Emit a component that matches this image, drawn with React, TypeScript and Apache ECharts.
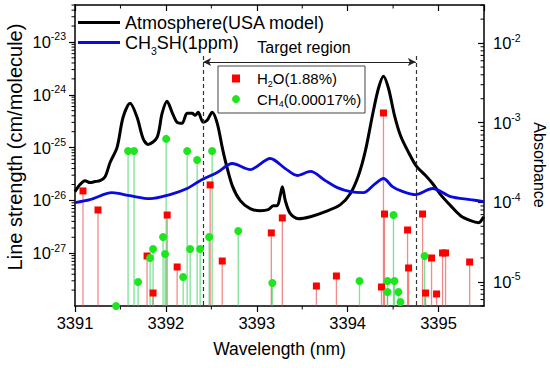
import React, { useEffect, useRef } from 'react';
import * as echarts from 'echarts';

const FONT = '"Liberation Sans", Arial, Helvetica, sans-serif';

const X_MIN = 3391;
const X_MAX = 3395.5;
const S_MIN = 1e-28;
const S_MAX = 5.01e-23;
const A_MIN = 4.98e-6;
const A_MAX = 3.01e-2;

// Target region annotation (wavelength nm, line strength level)
const TARGET_START = 3392.41;
const TARGET_END = 3394.75;
const ARROW_LEVEL = 4.18e-24;
const DASH_TOP = 5.4e-24;

// Atmosphere (USA model) absorbance: [wavelength, absorbance]
const atmosphere: number[][] = [
  [3391.0, 1.36e-4], [3391.055, 1.67e-4], [3391.11, 1.87e-4], [3391.165, 1.77e-4],
  [3391.22, 1.82e-4], [3391.275, 1.87e-4], [3391.331, 2.1e-4], [3391.386, 3.16e-4],
  [3391.463, 4.89e-4], [3391.529, 1.17e-3], [3391.606, 1.75e-3], [3391.683, 1.17e-3],
  [3391.749, 6.34e-4], [3391.804, 5.33e-4], [3391.903, 6.53e-4], [3391.958, 1.31e-3],
  [3392.013, 1.86e-3], [3392.068, 1.35e-3], [3392.123, 1.01e-3], [3392.178, 9.81e-4],
  [3392.233, 1.31e-3], [3392.289, 1.31e-3], [3392.322, 1.24e-3], [3392.355, 1.35e-3],
  [3392.41, 1.01e-3], [3392.454, 1.07e-3], [3392.509, 1.35e-3], [3392.565, 9.81e-4],
  [3392.62, 4.89e-4], [3392.653, 3.35e-4], [3392.73, 1.62e-4], [3392.818, 1.05e-4],
  [3392.927, 8.32e-5], [3393.037, 7.85e-5], [3393.126, 8.07e-5], [3393.181, 9.08e-5],
  [3393.225, 9.08e-5], [3393.258, 1.21e-4], [3393.281, 1.57e-4], [3393.314, 1.05e-4],
  [3393.369, 7.19e-5], [3393.457, 6.22e-5], [3393.59, 6.59e-5], [3393.755, 7.62e-5],
  [3393.92, 9.35e-5], [3394.03, 1.29e-4], [3394.119, 2.17e-4], [3394.196, 4.48e-4],
  [3394.273, 1.24e-3], [3394.339, 2.71e-3], [3394.394, 3.84e-3], [3394.449, 2.71e-3],
  [3394.515, 1.24e-3], [3394.581, 6.92e-4], [3394.67, 4.23e-4], [3394.758, 2.82e-4],
  [3394.857, 2.17e-4], [3394.934, 1.72e-4], [3395.022, 1.25e-4], [3395.132, 9.08e-5],
  [3395.242, 6.79e-5], [3395.353, 5.87e-5], [3395.441, 5.55e-5], [3395.496, 6.59e-5],
];

// CH3SH (1 ppm) absorbance: [wavelength, absorbance]
const ch3sh: number[][] = [
  [3391.0, 9.91e-5], [3391.165, 1.08e-4], [3391.407, 1.32e-4], [3391.606, 1.21e-4],
  [3391.826, 1.11e-4], [3392.046, 1.25e-4], [3392.233, 1.49e-4], [3392.377, 1.87e-4],
  [3392.564, 2.37e-4], [3392.73, 3.07e-4], [3392.927, 2.58e-4], [3393.148, 3.55e-4],
  [3393.314, 2.65e-4], [3393.446, 2.17e-4], [3393.59, 2.44e-4], [3393.755, 1.87e-4],
  [3393.887, 1.53e-4], [3394.03, 1.36e-4], [3394.172, 1.32e-4], [3394.304, 1.72e-4],
  [3394.394, 1.99e-4], [3394.493, 1.57e-4], [3394.581, 1.4e-4], [3394.747, 1.25e-4],
  [3394.934, 1.49e-4], [3395.132, 1.18e-4], [3395.353, 1.08e-4], [3395.5, 1.02e-4],
];

// H2O (1.88%) line strengths: [wavelength, cm/molecule]
const h2oLines: number[][] = [
  [3391.088, 1.51e-26], [3391.253, 6.58e-27], [3391.793, 8.85e-28], [3391.859, 1.76e-28],
  [3392.014, 5.28e-27], [3392.124, 5.48e-28], [3392.487, 1.96e-26], [3392.62, 7.11e-28],
  [3393.16, 2.42e-27], [3393.281, 4.65e-27], [3393.656, 2.39e-28], [3393.876, 3.7e-28],
  [3394.372, 2.29e-28], [3394.394, 4.52e-25], [3394.405, 5.52e-27], [3394.659, 2.75e-27],
  [3394.67, 5.25e-28], [3394.824, 5.52e-27], [3394.857, 1.76e-28], [3394.923, 8.11e-28],
  [3394.978, 1.69e-28], [3395.044, 1.01e-27], [3395.077, 1.01e-27], [3395.342, 6.81e-28],
];

// CH4 (0.00017%) line strengths: [wavelength, cm/molecule]
const ch4Lines: number[][] = [
  [3391.452, 1.0e-28], [3391.584, 8.63e-26], [3391.65, 8.63e-26], [3391.694, 2.85e-28],
  [3391.826, 8.11e-28], [3391.859, 1.2e-27], [3391.969, 2.03e-27], [3391.991, 9.66e-28],
  [3392.003, 1.46e-25], [3392.19, 3.54e-28], [3392.234, 8.63e-26], [3392.267, 1.2e-27],
  [3392.344, 5.82e-26], [3392.377, 1.2e-27], [3392.476, 2.03e-27], [3392.509, 8.63e-26],
  [3392.796, 2.63e-27], [3393.171, 2.73e-28], [3394.13, 2.97e-28], [3394.438, 2.97e-28],
  [3394.515, 2.97e-28], [3394.438, 1.84e-28], [3394.559, 1.84e-28], [3394.581, 1.19e-28],
  [3394.504, 5.28e-27], [3394.846, 8.85e-28],
];

const xMinorTicks = [3391.5, 3392.5, 3393.5, 3394.5];

const NAME_ATM = 'Atmosphere(USA model)';
const NAME_CH3SH = 'CH3SH(1ppm)';
const NAME_H2O = 'H2O(1.88%)';
const NAME_CH4 = 'CH4(0.00017%)';

function buildOption() {
  const leftMinor: number[][] = [];
  for (let n = -28; n <= -23; n++) {
    for (let k = 2; k <= 9; k++) {
      const v = k * Math.pow(10, n);
      if (v < S_MAX) leftMinor.push([X_MIN, v]);
    }
  }
  const rightMinor: number[][] = [];
  for (let n = -6; n <= -2; n++) {
    for (let k = 2; k <= 9; k++) {
      const v = k * Math.pow(10, n);
      if (v > A_MIN && v < A_MAX) rightMinor.push([X_MAX, v]);
    }
  }
  const xMinor: number[][] = [];
  xMinorTicks.forEach((w) => {
    xMinor.push([w, S_MIN]);
    xMinor.push([w, S_MAX]);
  });

  const hTick = (len: number) => (params: any, api: any) => {
    const p = api.coord([api.value(0), api.value(1)]);
    return {
      type: 'line',
      shape: { x1: p[0] - len, y1: p[1], x2: p[0], y2: p[1] },
      style: { stroke: '#000', lineWidth: 1 },
    };
  };
  const vTick = (len: number) => (params: any, api: any) => {
    const p = api.coord([api.value(0), api.value(1)]);
    return {
      type: 'line',
      shape: { x1: p[0], y1: p[1], x2: p[0], y2: p[1] + len },
      style: { stroke: '#000', lineWidth: 1 },
    };
  };
  const stem = (color: string) => (params: any, api: any) => {
    const top = api.coord([api.value(0), api.value(1)]);
    const bot = api.coord([api.value(0), S_MIN]);
    return {
      type: 'line',
      shape: { x1: top[0], y1: top[1], x2: bot[0], y2: bot[1] },
      style: { stroke: color, lineWidth: 1.3 },
    };
  };

  const supFmt = (v: number) => {
    const e = Math.round(Math.log10(v));
    return `{b|10}{s|${e}}`;
  };
  const supRich = {
    b: { fontSize: 16.5, lineHeight: 22, fontFamily: FONT, color: '#000' },
    s: { fontSize: 10.5, lineHeight: 10.5, verticalAlign: 'top', fontFamily: FONT, color: '#000' },
  };

  const axisLineStyle = { color: '#000', width: 1.5 };

  return {
    animation: false,
    backgroundColor: '#ffffff',
    textStyle: { fontFamily: FONT },
    grid: { left: 75, top: 5, width: 409, height: 301, outerBoundsMode: 'none' },
    xAxis: [
      {
        type: 'value',
        min: X_MIN,
        max: X_MAX,
        interval: 1,
        position: 'bottom',
        axisLine: { show: true, onZero: false, lineStyle: axisLineStyle },
        axisTick: { show: true, inside: false, length: 6, lineStyle: { color: '#000', width: 1.2 } },
        minorTick: { show: false },
        splitLine: { show: false },
        axisLabel: {
          show: true,
          margin: 8,
          fontSize: 16.5,
          fontFamily: FONT,
          color: '#000',
          showMaxLabel: false,
          formatter: (v: number) => String(Math.round(v)),
        },
        name: 'Wavelength (nm)',
        nameLocation: 'middle',
        nameGap: 34,
        nameTextStyle: { fontSize: 17.5, fontFamily: FONT, color: '#000' },
      },
      {
        type: 'value',
        min: X_MIN,
        max: X_MAX,
        interval: 1,
        position: 'top',
        axisLine: { show: true, onZero: false, lineStyle: axisLineStyle },
        axisTick: { show: true, inside: true, length: 6, lineStyle: { color: '#000', width: 1.2 } },
        axisLabel: { show: false },
        splitLine: { show: false },
      },
    ],
    yAxis: [
      {
        type: 'log',
        logBase: 10,
        min: S_MIN,
        max: S_MAX,
        position: 'left',
        axisLine: { show: true, onZero: false, lineStyle: axisLineStyle },
        axisTick: { show: true, inside: false, length: 6, lineStyle: { color: '#000', width: 1.2 } },
        splitLine: { show: false },
        axisLabel: {
          show: true,
          margin: 9,
          showMaxLabel: false,
          formatter: supFmt,
          rich: supRich,
        },
      },
      {
        type: 'log',
        logBase: 10,
        min: A_MIN,
        max: A_MAX,
        position: 'right',
        axisLine: { show: true, onZero: false, lineStyle: axisLineStyle },
        axisTick: { show: true, inside: true, length: 6, lineStyle: { color: '#000', width: 1.2 } },
        splitLine: { show: false },
        axisLabel: {
          show: true,
          margin: 9,
          showMinLabel: false,
          showMaxLabel: false,
          formatter: supFmt,
          rich: supRich,
        },
        name: 'Absorbance',
        nameLocation: 'middle',
        nameGap: 44,
        nameRotate: -90,
        nameTextStyle: {
          fontSize: 16,
          fontFamily: FONT,
          color: '#000',
          padding: [0, 0, 0, 19],
        },
      },
    ],
    legend: [
      {
        data: [
          { name: NAME_ATM, icon: 'rect' },
          { name: NAME_CH3SH, icon: 'rect' },
        ],
        orient: 'vertical',
        left: 78,
        top: 13.5,
        padding: 0,
        itemGap: 0,
        itemWidth: 42,
        itemHeight: 3,
        selectedMode: false,
        formatter: (name: string) =>
          name === NAME_CH3SH ? '{n|CH}{sb|3}{n|SH(1ppm)}' : `{n|${name}}`,
        textStyle: {
          color: '#000',
          fontFamily: FONT,
          fontSize: 18,
          rich: {
            n: { fontSize: 18, lineHeight: 22, fontFamily: FONT, color: '#000' },
            sb: { fontSize: 10.5, lineHeight: 10.5, verticalAlign: 'top', padding: [14, 0, 0, 0], fontFamily: FONT, color: '#000' },
          },
        },
      },
      {
        data: [
          { name: NAME_H2O, icon: 'rect' },
          { name: NAME_CH4, icon: 'circle' },
        ],
        orient: 'vertical',
        left: 232,
        top: 67.5,
        padding: 0,
        itemGap: 0,
        itemWidth: 8,
        itemHeight: 8,
        selectedMode: false,
        formatter: (name: string) =>
          name === NAME_H2O ? '{m0|H}{sb|2}{m|O(1.88%)}' : '{m0|CH}{sb|4}{m|(0.00017%)}',
        textStyle: {
          color: '#000',
          fontFamily: FONT,
          fontSize: 15,
          rich: {
            m0: { fontSize: 15, lineHeight: 22, padding: [0, 0, 0, 12], fontFamily: FONT, color: '#000' },
            m: { fontSize: 15, lineHeight: 22, fontFamily: FONT, color: '#000' },
            sb: { fontSize: 9, lineHeight: 9, verticalAlign: 'top', padding: [11.6, 0, 0, 0], fontFamily: FONT, color: '#000' },
          },
        },
      },
    ],
    graphic: [
      {
        type: 'rect',
        shape: { x: 218, y: 66, width: 147, height: 47 },
        style: { fill: 'rgba(255,255,255,0)', stroke: '#444', lineWidth: 1 },
        silent: true,
        z: 50,
      },
      {
        type: 'text',
        x: 15,
        y: 147,
        rotation: Math.PI / 2,
        style: {
          text: 'Line strength (cm/molecule)',
          fontSize: 20,
          fontFamily: FONT,
          fill: '#000',
          align: 'center',
          verticalAlign: 'middle',
          textAlign: 'center',
          textVerticalAlign: 'middle',
        },
        silent: true,
      },
    ],
    series: [
      {
        name: 'H2O stems',
        type: 'custom',
        xAxisIndex: 0,
        yAxisIndex: 0,
        data: h2oLines,
        renderItem: stem('rgba(232,60,60,0.6)'),
        silent: true,
        z: 2,
      },
      {
        name: 'CH4 stems',
        type: 'custom',
        xAxisIndex: 0,
        yAxisIndex: 0,
        data: ch4Lines,
        renderItem: stem('rgba(40,205,80,0.6)'),
        silent: true,
        z: 2,
      },
      {
        name: NAME_ATM,
        type: 'line',
        xAxisIndex: 0,
        yAxisIndex: 1,
        data: atmosphere,
        symbol: 'none',
        showSymbol: false,
        smooth: 0.3,
        lineStyle: { color: '#000', width: 3 },
        itemStyle: { color: '#000' },
        z: 3,
      },
      {
        name: NAME_CH3SH,
        type: 'line',
        xAxisIndex: 0,
        yAxisIndex: 1,
        data: ch3sh,
        symbol: 'none',
        showSymbol: false,
        smooth: 0.3,
        lineStyle: { color: '#0a0adc', width: 2.8 },
        itemStyle: { color: '#0a0adc' },
        z: 3,
      },
      {
        name: NAME_H2O,
        type: 'scatter',
        xAxisIndex: 0,
        yAxisIndex: 0,
        data: h2oLines,
        symbol: 'rect',
        symbolSize: 7,
        itemStyle: { color: '#ff0000', opacity: 1 },
        z: 5,
        markLine: {
          silent: true,
          symbol: ['none', 'none'],
          label: { show: false },
          lineStyle: { color: '#333', type: [4, 3], width: 1.2 },
          data: [
            [{ coord: [TARGET_START, DASH_TOP] }, { coord: [TARGET_START, S_MIN] }],
            [{ coord: [TARGET_END, DASH_TOP] }, { coord: [TARGET_END, S_MIN] }],
            [
              {
                coord: [TARGET_START, ARROW_LEVEL],
                symbol: 'arrow',
                symbolSize: [6, 8],
                lineStyle: { type: 'solid', color: '#222', width: 1 },
                label: {
                  show: true,
                  position: 'middle',
                  formatter: 'Target region',
                  fontSize: 16,
                  fontFamily: FONT,
                  color: '#000',
                  distance: 6,
                  padding: [0, 11, 0, 0],
                },
              },
              { coord: [TARGET_END, ARROW_LEVEL], symbol: 'arrow', symbolSize: [6, 8] },
            ],
          ],
        },
      },
      {
        name: NAME_CH4,
        type: 'scatter',
        xAxisIndex: 0,
        yAxisIndex: 0,
        data: ch4Lines,
        symbol: 'circle',
        symbolSize: 8,
        itemStyle: { color: '#1ee61e', opacity: 1 },
        z: 5,
      },
      {
        name: 'left minor ticks',
        type: 'custom',
        xAxisIndex: 0,
        yAxisIndex: 0,
        data: leftMinor,
        renderItem: hTick(3.5),
        clip: false,
        silent: true,
        z: 10,
      },
      {
        name: 'right minor ticks',
        type: 'custom',
        xAxisIndex: 0,
        yAxisIndex: 1,
        data: rightMinor,
        renderItem: hTick(3.5),
        clip: false,
        silent: true,
        z: 10,
      },
      {
        name: 'x minor ticks',
        type: 'custom',
        xAxisIndex: 0,
        yAxisIndex: 0,
        data: xMinor,
        renderItem: vTick(3.5),
        clip: false,
        silent: true,
        z: 10,
      },
    ],
  };
}

export default function App() {
  const ref = useRef<HTMLDivElement>(null);
  useEffect(() => {
    document.body.style.margin = '0';
    if (!ref.current) return;
    const chart = echarts.init(ref.current, undefined, { renderer: 'svg' });
    chart.setOption(buildOption() as any);
    return () => {
      chart.dispose();
    };
  }, []);
  return (
    <div
      ref={ref}
      style={{ width: 550, height: 368, position: 'fixed', left: 0, top: 0, background: '#fff' }}
    />
  );
}
